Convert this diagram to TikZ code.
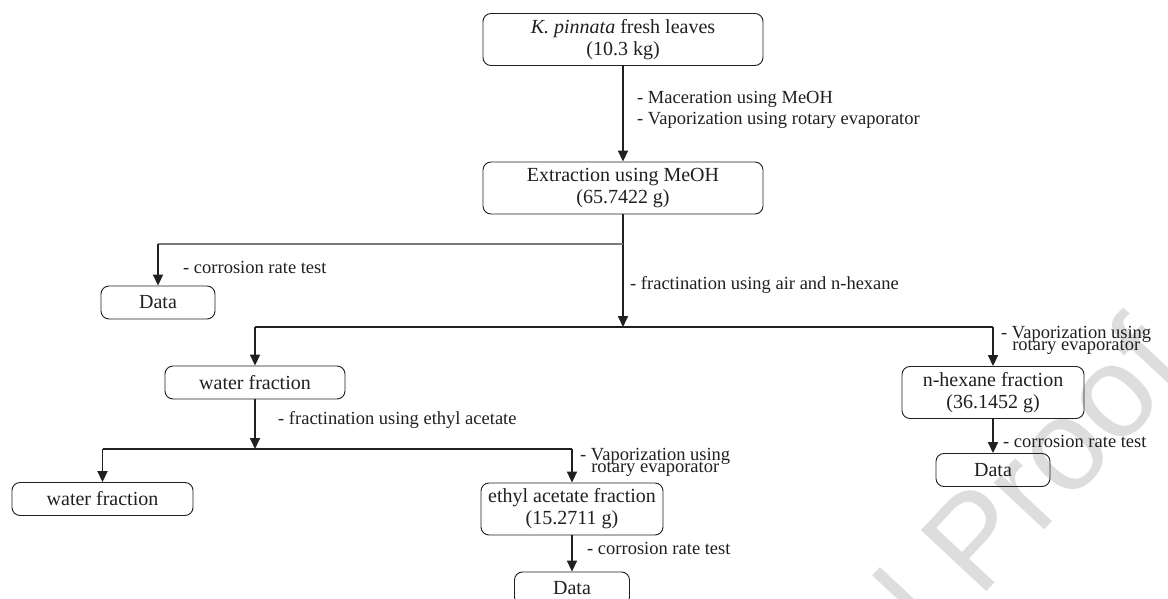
\documentclass[tikz,border=0pt]{standalone}
\usepackage{fontspec}
\setmainfont{Liberation Serif}
\newfontfamily\wmfont{Liberation Sans}
\usetikzlibrary{arrows.meta}
\definecolor{ink}{HTML}{231F20}
\definecolor{wmgray}{HTML}{DDDDDD}
\begin{document}
\begin{tikzpicture}[x=1pt,y=-1pt,
  box/.style={draw=ink, line width=0.9pt, rounded corners=8pt, inner sep=0pt,
    align=center, text=ink, font=\fontsize{20}{22}\selectfont},
  onebox/.style={box, minimum height=33pt},
  twobox/.style={box, minimum height=52pt},
  lbl/.style={text=ink, inner sep=0pt, font=\fontsize{18.5}{21}\selectfont},
  arr/.style={draw=ink, line width=1.8pt, -{Triangle[length=11pt,width=10pt]}},
  hline/.style={draw=ink, line width=1.3pt},
  gline/.style={draw=ink!60, line width=1.2pt}]
\clip (0,0) rectangle (1168,599);
\fill[white] (0,0) rectangle (1168,599);
% watermark
\node[rotate=47, anchor=base east, text=wmgray, inner sep=0pt,
  font=\wmfont\fontsize{130}{130}\selectfont] (wm) at (1192,372) {Journal Proof};
% boxes
\node[twobox, minimum width=280pt] (n1) at (623,39.5) {\textit{K. pinnata} fresh leaves\\(10.3 kg)};
\node[twobox, minimum width=280pt] (n2) at (623,188) {Extraction using MeOH\\(65.7422 g)};
\node[onebox, minimum width=114pt] (d1) at (158,302.5) {Data};
\node[onebox, minimum width=180pt] (wf1) at (255,382.5) {water fraction};
\node[twobox, minimum width=182pt] (hx) at (993,392.5) {n-hexane fraction\\(36.1452 g)};
\node[onebox, minimum width=114pt] (d3) at (993,470) {Data};
\node[onebox, minimum width=181pt] (wf2) at (102.5,499) {water fraction};
\node[twobox, minimum width=182pt] (ea) at (572,509) {ethyl acetate fraction\\(15.2711 g)};
\node[onebox, minimum width=115pt] (d2) at (572,588.5) {Data};
% junctions
\coordinate (j1) at (623,244);
\coordinate (j2) at (623,327);
\coordinate (j3) at (255,449);
% connectors
\draw[arr] (n1) -- (n2);
\draw[arr] (n2) -- (j2);
\draw[gline] (j1) -- (d1 |- j1);
\draw[arr] (d1 |- j1) -- (d1);
\draw[hline] (wf1 |- j2) -- (hx |- j2);
\draw[arr] (wf1 |- j2) -- (wf1);
\draw[arr] (hx |- j2) -- (hx);
\draw[arr] (hx) -- (d3);
\draw[arr] (wf1) -- (j3);
\draw[hline] (wf2 |- j3) -- (ea |- j3);
\draw[arr] (wf2 |- j3) -- (wf2);
\draw[arr] (ea |- j3) -- (ea);
\draw[arr] (ea) -- (d2);
% labels
\node[lbl, anchor=west, align=left] (t1) at (637,110) {- Maceration using MeOH\\- Vaporization using rotary evaporator};
\node[lbl, anchor=west] (t2) at (183,267) {- corrosion rate test};
\node[lbl, anchor=west] (t3) at (630,285) {- fractination using air and n-hexane};
\node[lbl, anchor=west] (t4) at (278,420) {- fractination using ethyl acetate};
\node[lbl, anchor=west, align=center] (t5) at (1001,340) {- Vaporization using\\[-9pt]rotary evaporator};
\node[lbl, anchor=west, align=center] (t6) at (580,462) {- Vaporization using\\[-9pt]rotary evaporator};
\node[lbl, anchor=west] (t7) at (1003,441) {- corrosion rate test};
\node[lbl, anchor=west] (t8) at (587,548) {- corrosion rate test};
\end{tikzpicture}
\end{document}
